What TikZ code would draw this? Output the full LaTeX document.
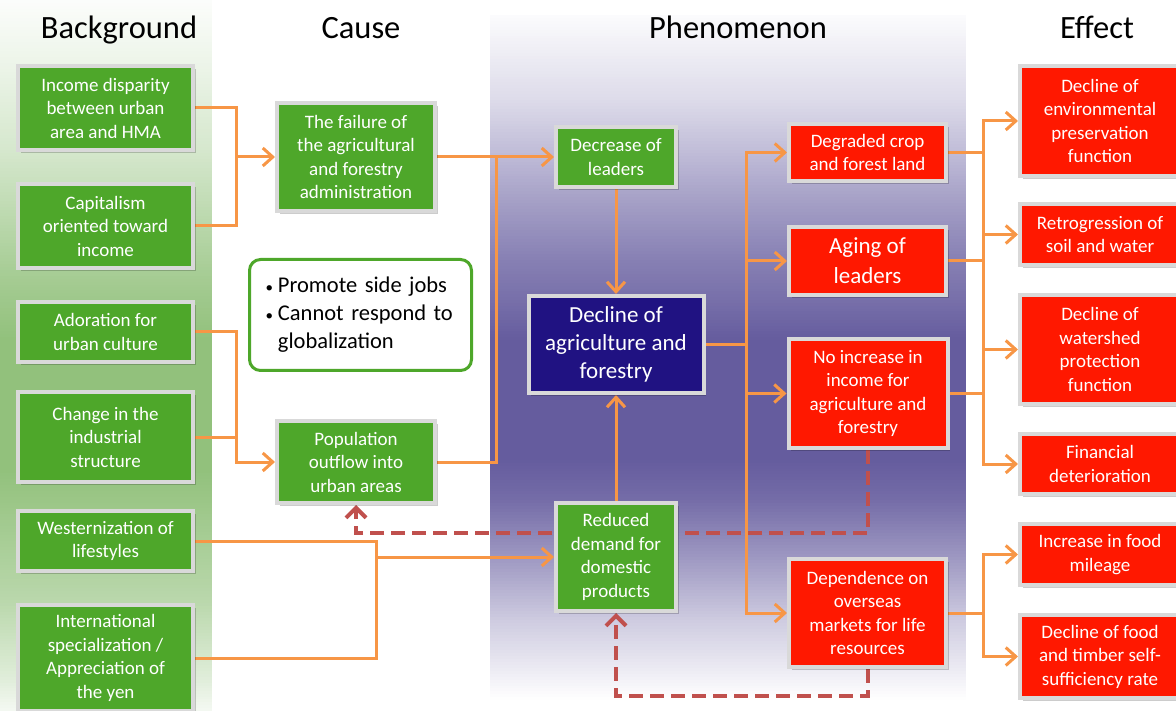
\documentclass[tikz,border=0pt]{standalone}
\usepackage{fontspec}
\setmainfont{Carlito}
\usetikzlibrary{arrows.meta,shadows}

\definecolor{boxgreen}{RGB}{78,167,42}
\definecolor{boxred}{RGB}{255,24,0}
\definecolor{boxnavy}{RGB}{32,18,130}
\definecolor{cardframe}{RGB}{217,217,217}
\definecolor{linkorange}{RGB}{247,150,70}
\definecolor{loopred}{RGB}{192,80,77}
\definecolor{stripgreen}{RGB}{146,193,124}
\definecolor{strippurple}{RGB}{101,92,158}

% A column strip faded vertically: thin bands, each tinted by linear
% interpolation between the listed (y, percent) stops.
% #1 colour, #2 left x, #3 right x, #4 list y0/y1/p0/p1
\newcommand{\fadestrip}[4]{%
  \foreach \ya/\yb/\pa/\pb in {#4}{%
    \pgfmathtruncatemacro{\nb}{max(1,ceil((\yb-\ya)/3))}%
    \foreach \k in {1,...,\nb}{%
      \pgfmathsetmacro{\yy}{\ya+(\k-1)*(\yb-\ya)/\nb}%
      \pgfmathsetmacro{\yz}{\ya+\k*(\yb-\ya)/\nb+0.7}%
      \pgfmathsetmacro{\pp}{\pa+(\k-0.5)*(\pb-\pa)/\nb}%
      \fill[#1!\pp!white] (#2,\yy) rectangle (#3,\yz);
    }%
  }%
}

\pgfdeclarelayer{strips}
\pgfdeclarelayer{links}
\pgfsetlayers{strips,links,main}

\tikzset{
  card/.style={draw=cardframe, line width=4pt, text=white, align=center, inner sep=0pt,
    font=\fontsize{19}{23.5}\selectfont,
    drop shadow={shadow xshift=2.5pt, shadow yshift=-3pt, fill=black, opacity=0.2}},
  gcard/.style={card, fill=boxgreen},
  rcard/.style={card, fill=boxred},
  ncard/.style={card, fill=boxnavy},
  sz/.style 2 args={minimum width=#1pt, minimum height=#2pt},
  colhead/.style={font=\fontsize{32.5}{36}\selectfont, anchor=base},
  link/.style={draw=linkorange, line width=3pt, line cap=rect},
  linkarrow/.style={link, -{Straight Barb[length=10pt,width=18pt]}},
  loopback/.style={draw=loopred, line width=4pt, dash pattern=on 14pt off 7pt,
    -{Straight Barb[length=10pt,width=20pt]}},
}

\newcommand{\smallbullet}{{\fontsize{15}{15}\selectfont\textbullet}}

\begin{document}
\begin{tikzpicture}[x=1pt,y=-1pt]
\useasboundingbox (0,0) rectangle (1176,711);

% shaded column strips
\begin{pgfonlayer}{strips}
  \fadestrip{stripgreen}{0}{212}{0/60/3/16, 60/150/16/38, 150/270/38/80,
    270/340/80/100, 340/470/100/100, 470/600/100/64, 600/680/64/28, 680/710.3/28/10}
  \fadestrip{strippurple}{490}{966}{15/100/2/22, 100/200/22/58, 200/260/58/78,
    260/300/78/88, 300/340/88/100, 340/460/100/100, 460/500/100/90,
    500/560/90/62, 560/620/62/32, 620/680/32/8, 680/699.3/8/0}
\end{pgfonlayer}

% column headings
\node[colhead] (hBack) at (119,39) {Background};
\node[colhead] (hCause) at (361,39) {Cause};
\node[colhead] (hPhen) at (738,39) {Phenomenon};
\node[colhead] (hEff) at (1097,39) {Effect};

% background
\node[gcard, sz={175}{84}] (inc) at (105.5,108) {Income disparity\\between urban\\area and HMA};
\node[gcard, sz={175}{84}] (cap) at (105.5,226) {Capitalism\\oriented toward\\income};
\node[gcard, sz={175}{60}] (ado) at (105.5,332) {Adoration for\\urban culture};
\node[gcard, sz={175}{90}] (chg) at (105.5,437) {Change in the\\industrial\\structure};
\node[gcard, sz={175}{60}] (west) at (105.5,541) {Westernization of\\lifestyles};
\node[gcard, sz={175}{106}] (intl) at (105.5,658) {International\\specialization /\\Appreciation of\\the yen};

% cause
\node[gcard, sz={158}{108}] (fail) at (356,157) {The failure of\\the agricultural\\and forestry\\administration};
\node[draw=boxgreen, line width=3pt, rounded corners=11pt, fill=white,
      inner xsep=16pt, inner ysep=0pt, text width=190pt, align=left,
      sz={222}{111}, font=\fontsize{22.5}{28}\selectfont] (note) at (360.5,315)
  {\raisebox{-3pt}{\begin{tabular}{@{}l@{\hspace{5pt}}l@{}}\smallbullet & Promote side jobs\\ \smallbullet & Cannot respond to\\ & globalization\end{tabular}}};
\node[gcard, sz={158}{82}] (pop) at (356,462) {Population\\outflow into\\urban areas};

% phenomenon
\node[gcard, sz={120}{60}] (dec) at (616,157) {Decrease of\\leaders};
\node[ncard, sz={175}{97}, font=\fontsize{23}{28}\selectfont] (decl) at (616,344.5) {Decline of\\agriculture and\\forestry};
\node[gcard, sz={120}{108}] (red) at (616,557) {Reduced\\demand for\\domestic\\products};
\node[rcard, sz={157}{57}] (deg) at (867.5,152.5) {Degraded crop\\and forest land};
\node[rcard, sz={157}{68}, font=\fontsize{23}{30}\selectfont] (age) at (867.5,261) {Aging of\\leaders};
\node[rcard, sz={159}{109}] (noinc) at (868,393.5) {No increase in\\income for\\agriculture and\\forestry};
\node[rcard, sz={157}{108}] (dep) at (867.5,613) {Dependence on\\overseas\\markets for life\\resources};

% effect
\node[rcard, sz={160}{110}] (env) at (1100,121) {Decline of\\environmental\\preservation\\function};
\node[rcard, sz={160}{61}] (ret) at (1100,234.5) {Retrogression of\\soil and water};
\node[rcard, sz={160}{109}] (wat) at (1100,349.5) {Decline of\\watershed\\protection\\function};
\node[rcard, sz={160}{60}] (fin) at (1100,464) {Financial\\deterioration};
\node[rcard, sz={160}{61}] (mil) at (1100,554.5) {Increase in food\\mileage};
\node[rcard, sz={160}{83}] (self) at (1100,656.5) {Decline of food\\and timber self-\\sufficiency rate};

% connectors
\begin{pgfonlayer}{links}
  \coordinate (jBg1) at (236,157);
  \coordinate (jBg2) at (236,462);
  \coordinate (jBg3) at (376,557);
  \coordinate (jCause) at (496,157);
  \coordinate (jPh) at (746,344.5);
  \coordinate (jEff) at (983,300);
  \coordinate (yLoopA) at (0,533);
  \coordinate (yLoopB) at (0,696);

  \draw[link] (inc.east) -| (jBg1);
  \draw[link] (cap.east) -| (jBg1);
  \draw[linkarrow] (jBg1) -- (fail.west);

  \draw[link] (ado.east) -| (jBg2);
  \draw[link] (chg.east) -| (jBg2);
  \draw[linkarrow] (jBg2) -- (pop.west);

  \draw[link] (west.east) -| (jBg3);
  \draw[link] (intl.east) -| (jBg3);
  \draw[linkarrow] (jBg3) -- (red.west);

  \draw[linkarrow] (fail.east) -- (dec.west);
  \draw[link] (pop.east) -| (jCause);

  \draw[linkarrow] (dec.south) -- (decl.north);
  \draw[linkarrow] (red.north) -- (decl.south);

  \draw[link] (decl.east) -- (jPh);
  \draw[link] (jPh |- deg.west) -- (jPh |- dep.west);
  \foreach \n in {deg,age,noinc,dep}
    \draw[linkarrow] (jPh |- \n.west) -- (\n.west);

  \foreach \n in {deg,age,noinc,dep}
    \draw[link] (\n.east) -- (\n.east -| jEff);
  \draw[link] (jEff |- env.west) -- (jEff |- fin.west);
  \foreach \n in {env,ret,wat,fin}
    \draw[linkarrow] (jEff |- \n.west) -- (\n.west);
  \draw[link] (jEff |- mil.west) -- (jEff |- self.west);
  \foreach \n in {mil,self}
    \draw[linkarrow] (jEff |- \n.west) -- (\n.west);

  \draw[loopback] (noinc.south) |- (pop.south |- yLoopA) -- (pop.south);
  \draw[loopback] (dep.south) |- (red.south |- yLoopB) -- (red.south);
\end{pgfonlayer}
\end{tikzpicture}
\end{document}
